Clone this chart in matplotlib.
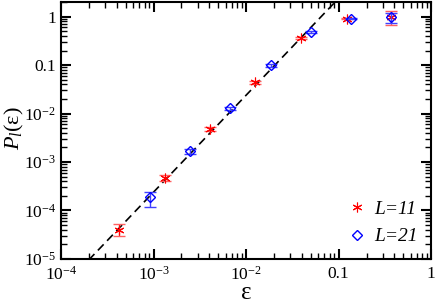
import matplotlib
matplotlib.use('Agg')
import matplotlib.pyplot as plt
import numpy as np
from matplotlib.ticker import LogLocator, NullFormatter

plt.rcParams['font.family'] = ['Liberation Serif', 'DejaVu Serif']
plt.rcParams['mathtext.fontset'] = 'custom'
plt.rcParams['mathtext.rm'] = 'Liberation Serif'
plt.rcParams['mathtext.it'] = 'Liberation Serif:italic'

# L=11 (red stars)
eps11 = [4.2e-4, 1.33e-3, 4.1e-3, 0.0126, 0.0396, 0.122, 0.366]
p11 = [4.0e-5, 4.7e-4, 4.8e-3, 0.044, 0.37, 0.91, 0.97]
p11_lo = [1.0e-5, 0.6e-4, 0.5e-3, 0.003, 0.02, 0.03, 0.30]
p11_hi = [1.3e-5, 0.8e-4, 0.6e-3, 0.003, 0.02, 0.03, 0.35]

# L=21 (blue diamonds)
eps21 = [9.1e-4, 2.48e-3, 6.7e-3, 0.0187, 0.0508, 0.135, 0.366]
p21 = [1.9e-4, 1.7e-3, 0.0129, 0.099, 0.49, 0.91, 0.97]
p21_lo = [0.7e-4, 0.2e-3, 0.001, 0.006, 0.02, 0.03, 0.22]
p21_hi = [0.5e-4, 0.2e-3, 0.001, 0.006, 0.02, 0.03, 0.24]

# fit P ~ A eps^2
fit_A = 240.0
fit_eps = np.array([1e-4, 0.1])

fig = plt.figure(figsize=(4.36, 3.05), dpi=100)
ax = fig.add_axes([0.140, 0.151, 0.849, 0.842])

ax.plot(fit_eps, fit_A * fit_eps**2, 'k--', lw=1.2, dashes=(5, 3))
ax.errorbar(eps11, p11, yerr=[p11_lo, p11_hi], fmt='none', ecolor='#ff6060',
            elinewidth=1, capsize=4)
ax.plot(eps11, p11, ls='none', marker=(6, 2, 0), ms=7, mec='red', mew=0.8,
        label='L=11')
ax.errorbar(eps21, p21, yerr=[p21_lo, p21_hi], fmt='none', ecolor='#4040ff',
            elinewidth=1, capsize=4)
ax.plot(eps21, p21, ls='none', marker='D', ms=5, mfc='none', mec='blue',
        mew=1, label='L=21')

ax.set_xscale('log')
ax.set_yscale('log')
ax.set_xlim(1e-4, 1)
ax.set_ylim(1e-5, 2)

xt = [1e-4, 1e-3, 1e-2, 0.1, 1]
xl = ['10$^{-4}$', '10$^{-3}$', '10$^{-2}$', '0.1', '1']
yt = [1e-5, 1e-4, 1e-3, 1e-2, 0.1, 1]
yl = ['10$^{-5}$', '10$^{-4}$', '10$^{-3}$', '10$^{-2}$', '0.1', '1']
ax.set_xticks(xt)
ax.set_xticklabels(xl)
ax.set_yticks(yt)
ax.set_yticklabels(yl)
ax.xaxis.set_minor_locator(LogLocator(base=10, subs=np.arange(2, 10)))
ax.yaxis.set_minor_locator(LogLocator(base=10, subs=np.arange(2, 10)))
ax.xaxis.set_minor_formatter(NullFormatter())
ax.yaxis.set_minor_formatter(NullFormatter())

ax.tick_params(which='both', direction='in', top=True, right=True,
               labelsize=12.5, width=1.5)
ax.tick_params(which='major', length=7)
ax.tick_params(which='minor', length=4, width=1)
ax.tick_params(axis='x', which='major', pad=5)
for s in ax.spines.values():
    s.set_linewidth(1.5)

ax.set_xlabel('ε', fontsize=18, labelpad=-1)
ax.set_ylabel('$P_{l}$(ε)', fontsize=16, va='center')
ax.yaxis.set_label_coords(-0.125, 0.51)

leg = ax.legend(loc='lower right', frameon=False,
                prop={'size': 14, 'style': 'italic'},
                handlelength=0.8, handletextpad=0.5, labelspacing=0.5,
                borderaxespad=0.4, borderpad=0.3)

fig.savefig('out.png', dpi=100)
